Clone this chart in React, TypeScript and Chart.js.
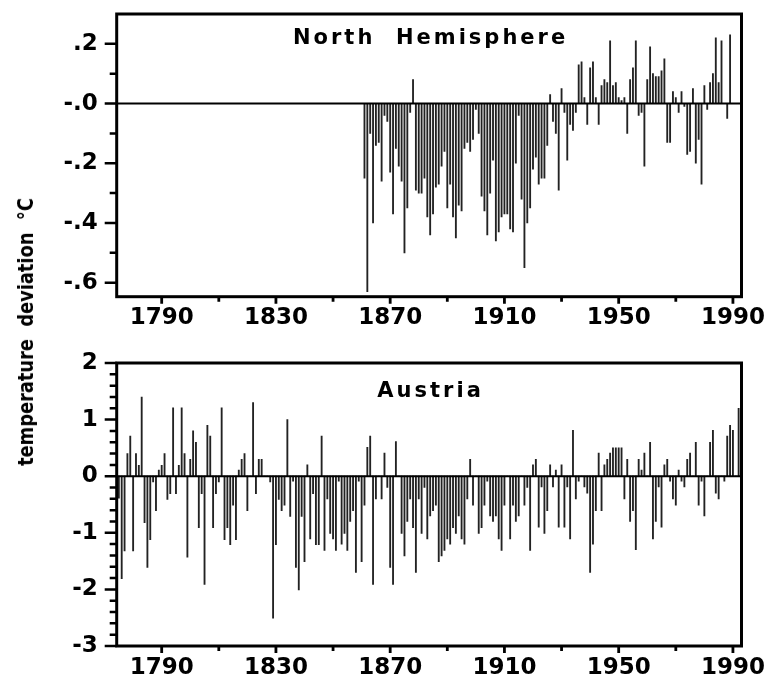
import React, { useEffect, useRef } from "react";
import { Chart, registerables } from "chart.js";

Chart.register(...registerables);

// ---------- data ----------
const NH_START_YEAR = 1861;
const nhValues = [
  -0.25, -0.63, -0.10, -0.40, -0.14, -0.13, -0.26, -0.04, -0.06, -0.23, // 1861-1870
  -0.37, -0.15, -0.21, -0.26, -0.50, -0.35, -0.03, 0.08, -0.29, -0.30, // 1871-1880
  -0.30, -0.25, -0.38, -0.44, -0.37, -0.28, -0.27, -0.21, -0.16, -0.35, // 1881-1890
  -0.27, -0.38, -0.45, -0.34, -0.36, -0.15, -0.13, -0.16, -0.12, -0.02, // 1891-1900
  -0.10, -0.31, -0.36, -0.44, -0.30, -0.19, -0.46, -0.43, -0.38, -0.37, // 1901-1910
  -0.37, -0.42, -0.43, -0.20, -0.04, -0.32, -0.55, -0.40, -0.35, -0.22, // 1911-1920
  -0.18, -0.27, -0.25, -0.25, -0.14, 0.03, -0.06, -0.10, -0.29, 0.05, // 1921-1930
  -0.03, -0.19, -0.07, -0.09, -0.03, 0.13, 0.14, 0.02, -0.07, 0.12, // 1931-1940
  0.14, 0.02, -0.07, 0.06, 0.08, 0.07, 0.21, 0.06, 0.07, 0.02, // 1941-1950
  0.01, 0.02, -0.10, 0.08, 0.12, 0.21, -0.04, -0.03, -0.21, 0.08, // 1951-1960
  0.19, 0.10, 0.09, 0.09, 0.11, 0.15, -0.13, -0.13, 0.04, 0.02, // 1961-1970
  -0.03, 0.04, -0.01, -0.17, -0.16, 0.05, -0.20, -0.12, -0.27, 0.06, // 1971-1980
  -0.02, 0.07, 0.10, 0.22, 0.07, 0.21, 0.0, -0.05, 0.23, // 1981-1989
];

const AT_START_YEAR = 1775;
const atValues = [
  -0.39, -1.81, -1.32, 0.40, 0.71, // 1775-1779
  -1.32, 0.40, 0.19, 1.40, -0.82, -1.61, -1.12, -0.10, -0.61, 0.11, // 1780-1789
  0.19, 0.40, -0.41, -0.31, 1.21, -0.31, 0.19, 1.21, 0.40, -1.43, // 1790-1799
  0.30, 0.80, 0.60, -0.91, -0.31, -1.91, 0.90, 0.71, -0.91, -0.31, // 1800-1809
  -0.10, 1.21, -1.12, -0.91, -1.21, -0.51, -1.12, 0.11, 0.30, 0.40, // 1810-1819
  -0.61, 0.0, 1.30, -0.31, 0.30, 0.30, 0.0, 0.0, -0.10, -2.51, // 1820-1829
  -1.21, -0.41, -0.61, -0.51, 1.00, -0.71, -0.09, -1.61, -2.01, -0.71, // 1830-1839
  -1.51, 0.20, -1.11, -0.31, -1.21, -1.21, 0.71, -1.31, -0.40, -1.01, // 1840-1849
  -1.11, -1.31, -0.09, -1.20, -1.01, -1.31, -0.80, -0.61, -1.70, -0.09, // 1850-1859
  -1.51, -0.51, 0.51, 0.71, -1.91, -0.40, 0.0, -0.40, 0.41, -0.20, // 1860-1869
  -1.61, -1.91, 0.61, 0.0, -1.01, -1.41, -0.80, -0.40, -0.91, -1.70, // 1870-1879
  -0.40, -1.01, -0.20, -1.11, -0.70, -0.61, -0.51, -1.51, -1.41, -1.31, // 1880-1889
  -1.11, -1.20, -0.91, -1.01, -0.70, -1.11, -1.20, -0.40, 0.30, -0.51, // 1890-1899
  0.0, -1.01, -0.91, -0.51, -0.09, -0.70, -0.80, -0.70, -1.11, -1.31, // 1900-1909
  -0.51, 0.0, -1.11, -0.51, -0.80, -0.70, 0.0, -0.51, -0.20, -1.31, // 1910-1919
  0.20, 0.30, -0.90, -0.19, -1.01, -0.61, 0.20, -0.19, 0.11, -0.90, // 1920-1929
  0.20, -0.90, -0.19, -1.11, 0.81, -0.40, -0.09, 0.0, -0.19, -0.30, // 1930-1939
  -1.70, -1.20, -0.61, 0.41, -0.61, 0.20, 0.30, 0.41, 0.50, 0.50, // 1940-1949
  0.50, 0.50, -0.40, 0.30, -0.80, -0.61, -1.30, 0.30, 0.11, 0.41, // 1950-1959
  0.0, 0.60, -1.11, -0.80, -0.19, -0.90, 0.20, 0.30, -0.09, -0.40, // 1960-1969
  -0.51, 0.11, -0.09, -0.19, 0.30, 0.41, 0.0, 0.60, -0.51, -0.09, // 1970-1979
  -0.70, 0.0, 0.60, 0.81, -0.30, -0.40, 0.0, -0.09, 0.71, 0.90, // 1980-1989
  0.81, 0.0, 1.20, // 1990-1992
];

const xMajorYears = [1790, 1830, 1870, 1910, 1950, 1990];
const xMinorYears = [1810, 1850, 1890, 1930, 1970];

const nhYMajor = [0.2, 0, -0.2, -0.4, -0.6];
const nhYLabels = [".2", "-.0", "-.2", "-.4", "-.6"];
const nhYMinor = [0.1, -0.1, -0.3, -0.5];

const atYMajor = [2, 1, 0, -1, -2, -3];
const atYLabels = ["2", "1", "0", "-1", "-2", "-3"];
const atYMinor = [
  1.8, 1.6, 1.4, 1.2, 0.8, 0.6, 0.4, 0.2, -0.2, -0.4, -0.6, -0.8,
  -1.2, -1.4, -1.6, -1.8, -2.2, -2.4, -2.6, -2.8,
];

const NH_TITLE = "North  Hemisphere";
const AT_TITLE = "Austria";
const Y_TITLE = "temperature  deviation  °C";

// ---------- helpers ----------
const FONT = '"DejaVu Sans", "Liberation Sans", sans-serif';

const framePlugin = {
  id: "frame",
  afterDatasetsDraw(chart: any, _args: any, opts: any) {
    const { ctx, chartArea: a, scales } = chart;
    const xs = scales.x;
    const ys = scales.y;
    ctx.save();
    ctx.strokeStyle = "#000";
    ctx.fillStyle = "#000";
    // zero line
    const y0 = ys.getPixelForValue(0);
    ctx.lineWidth = 2;
    ctx.beginPath();
    ctx.moveTo(a.left, y0);
    ctx.lineTo(a.right, y0);
    ctx.stroke();
    // y ticks
    ctx.lineWidth = 2.5;
    ctx.beginPath();
    (opts.yMajor as number[]).forEach((v) => {
      const p = ys.getPixelForValue(v);
      ctx.moveTo(a.left - 12, p);
      ctx.lineTo(a.left, p);
    });
    (opts.yMinor as number[]).forEach((v) => {
      const p = ys.getPixelForValue(v);
      ctx.moveTo(a.left - 7, p);
      ctx.lineTo(a.left, p);
    });
    ctx.stroke();
    // x ticks
    ctx.lineWidth = 2.8;
    ctx.beginPath();
    xMajorYears.forEach((v) => {
      const p = xs.getPixelForValue(v);
      ctx.moveTo(p, a.bottom);
      ctx.lineTo(p, a.bottom + 7);
    });
    xMinorYears.forEach((v) => {
      const p = xs.getPixelForValue(v);
      ctx.moveTo(p, a.bottom);
      ctx.lineTo(p, a.bottom + 5);
    });
    ctx.stroke();
    // frame
    ctx.lineWidth = 3;
    ctx.strokeRect(a.left, a.top, a.right - a.left, a.bottom - a.top);
    // title inside plot
    ctx.font = "bold 21px " + FONT;
    (ctx as any).letterSpacing = "3px";
    ctx.textAlign = "center";
    ctx.textBaseline = "alphabetic";
    ctx.fillText(opts.title, (a.left + a.right) / 2 + 1.5, opts.titleBaseline);
    ctx.restore();
  },
};

function makeConfig(
  startYear: number,
  values: number[],
  yMin: number,
  yMax: number,
  yMajor: number[],
  yLabels: string[],
  yMinor: number[],
  title: string,
  titleBaseline: number,
  padTop: number,
  xHeight: number
): any {
  const points = values.map((v, i) => ({ x: startYear + i, y: v }));
  const labelFor = (val: number) => {
    const idx = yMajor.findIndex((m) => Math.abs(m - val) < 1e-9);
    return idx >= 0 ? yLabels[idx] : "";
  };
  return {
    type: "bar",
    data: {
      datasets: [
        {
          data: points,
          backgroundColor: "#222",
          borderWidth: 0,
          barThickness: 1.2,
          grouped: false,
        },
      ],
    },
    options: {
      animation: false,
      responsive: false,
      maintainAspectRatio: false,
      events: [],
      layout: { padding: { top: padTop, right: 24.5, bottom: 0, left: 0 } },
      plugins: {
        legend: { display: false },
        tooltip: { enabled: false },
        title: { display: false },
        frame: { yMajor, yMinor, title, titleBaseline },
      },
      scales: {
        x: {
          type: "linear",
          position: "bottom",
          offset: false,
          min: 1774.25,
          max: 1993,
          grid: { display: false, drawTicks: false, offset: false },
          border: { display: false },
          afterBuildTicks: (s: any) => {
            s.ticks = xMajorYears.map((v) => ({ value: v }));
          },
          afterFit: (s: any) => {
            s.height = xHeight;
            s.paddingLeft = 0;
            s.paddingRight = 0;
          },
          ticks: {
            autoSkip: false,
            maxRotation: 0,
            minRotation: 0,
            padding: 8,
            color: "#000",
            font: { family: FONT, size: 23, weight: "bold" },
            callback: (v: any) => String(v),
          },
        },
        y: {
          type: "linear",
          position: "left",
          min: yMin,
          max: yMax,
          grid: { display: false, drawTicks: false },
          border: { display: false },
          afterBuildTicks: (s: any) => {
            s.ticks = yMajor.map((v) => ({ value: v }));
          },
          afterFit: (s: any) => {
            s.width = 116.7;
            s.paddingTop = 0;
            s.paddingBottom = 0;
          },
          ticks: {
            autoSkip: false,
            padding: 19,
            color: "#000",
            font: { family: FONT, size: 23, weight: "bold" },
            callback: (v: any) => labelFor(Number(v)),
          },
        },
      },
    },
    plugins: [framePlugin],
  };
}

function Panel(props: { top: number; height: number; config: () => any }) {
  const ref = useRef<HTMLCanvasElement | null>(null);
  useEffect(() => {
    if (!ref.current) return;
    const chart = new Chart(ref.current, props.config());
    return () => chart.destroy();
  }, []);
  return (
    <canvas
      ref={ref}
      width={766}
      height={props.height}
      style={{
        position: "absolute",
        left: 0,
        top: props.top,
        width: 766,
        height: props.height,
        display: "block",
      }}
    />
  );
}

export default function App() {
  return (
    <div
      style={{
        position: "absolute",
        left: 0,
        top: 0,
        width: 766,
        height: 674,
        background: "#fff",
        overflow: "hidden",
      }}
    >
      <Panel
        top={0}
        height={337}
        config={() =>
          makeConfig(
            NH_START_YEAR,
            nhValues,
            -0.647,
            0.3,
            nhYMajor,
            nhYLabels,
            nhYMinor,
            NH_TITLE,
            43.5,
            14,
            40.3
          )
        }
      />
      <Panel
        top={337}
        height={337}
        config={() =>
          makeConfig(
            AT_START_YEAR,
            atValues,
            -3,
            2,
            atYMajor,
            atYLabels,
            atYMinor,
            AT_TITLE,
            59.7,
            26,
            28
          )
        }
      />
      <div
        style={{
          position: "absolute",
          left: 26,
          top: 332,
          transform: "translate(-50%, -50%) rotate(-90deg) scaleX(0.9)",
          whiteSpace: "pre",
          fontFamily: '"Liberation Sans Narrow", "DejaVu Sans Condensed", "Liberation Sans", sans-serif',
          fontWeight: "bold",
          fontSize: 22,
          color: "#000",
          lineHeight: 1,
        }}
      >
        {Y_TITLE}
      </div>
    </div>
  );
}
